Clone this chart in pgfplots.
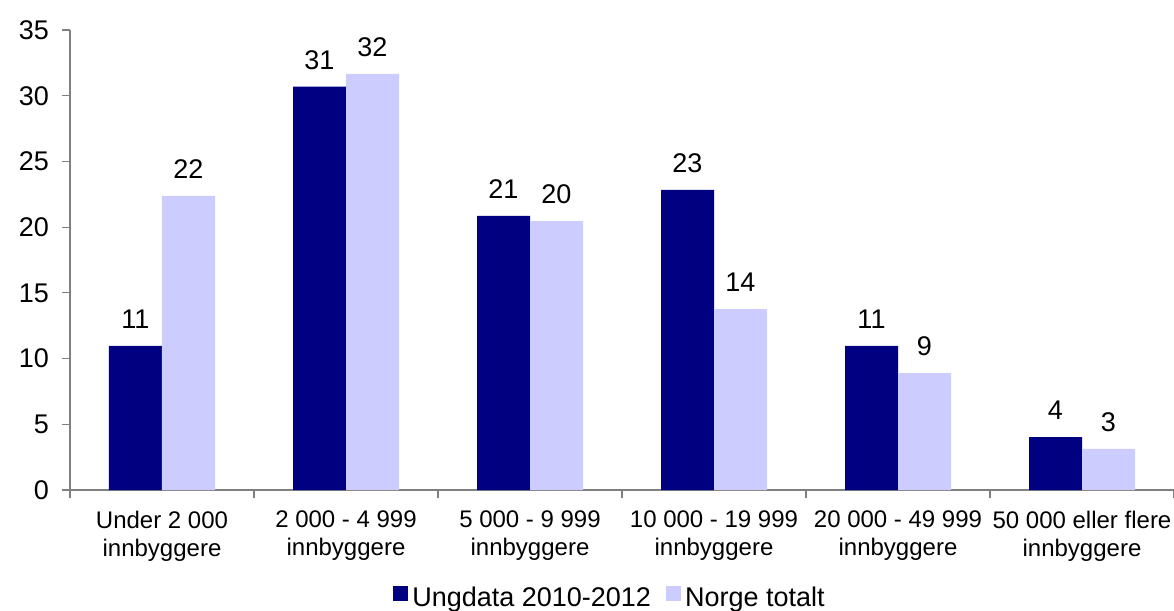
\documentclass[border=0pt]{standalone}
\usepackage{pgfplots}
\pgfplotsset{compat=1.18}
\usetikzlibrary{calc}
\usepackage{fontspec}
\setmainfont{Liberation Sans}
\definecolor{dark}{HTML}{000080}
\definecolor{light}{HTML}{CCCCFF}
\definecolor{axgray}{HTML}{808080}
\begin{document}
\begin{tikzpicture}
\begin{axis}[
  scale only axis, width=552pt, height=230pt,
  xmin=-0.5, xmax=5.5, ymin=0, ymax=35,
  ybar=0pt, bar width=26.5pt,
  clip=false,
  axis lines=left,
  axis line style={-, draw=axgray, line width=0.6pt},
  tick style={draw=axgray, line width=0.6pt},
  tick align=outside, major tick length=4pt,
  ytick={0,5,...,35},
  xtick={-0.5,0.5,...,5.5},
  x tick label as interval,
  xticklabels={{Under 2 000\\innbyggere},{2 000 - 4 999\\innbyggere},{5 000 - 9 999\\innbyggere},{10 000 - 19 999\\innbyggere},{20 000 - 49 999\\innbyggere},{50 000 eller flere\\innbyggere}},
  xticklabel style={align=center, font=\fontsize{12}{13.8}\selectfont, yshift=-3pt},
  yticklabel style={font=\fontsize{13.5}{16}\selectfont, xshift=-3pt},
  /pgf/number format/.cd, fixed, precision=0, assume math mode=true,
  /pgfplots/.cd,
  nodes near coords,
  every node near coord/.append style={font=\fontsize{13.5}{16}\selectfont, yshift=5pt, text=black},
  legend style={at={(0.49,-0.235)}, anchor=center, draw=none, fill=none,
    legend columns=2, font=\fontsize{13.5}{16}\selectfont,
    /tikz/every even column/.append style={column sep=5.5pt}},
]
\addplot[fill=dark, draw=none, legend image code/.code={\fill[dark] (0pt,-1.5pt) rectangle (7.5pt,6pt);}]
  coordinates {(0,10.96) (1,30.7) (2,20.85) (3,22.83) (4,10.96) (5,4.03)};
\addlegendentry{Ungdata 2010-2012}
\addplot[fill=light, draw=none, legend image code/.code={\fill[light] (0pt,-1.5pt) rectangle (7.5pt,6pt);}]
  coordinates {(0,22.37) (1,31.66) (2,20.45) (3,13.77) (4,8.9) (5,3.12)};
\addlegendentry{Norge totalt}
\coordinate (SW) at (rel axis cs:0,0);
\coordinate (NE) at (rel axis cs:1,1);
\end{axis}
\pgfresetboundingbox
\path ($(SW)+(-35pt,-60.5pt)$) rectangle ($(NE)+(0pt,15pt)$);
\end{tikzpicture}
\end{document}
